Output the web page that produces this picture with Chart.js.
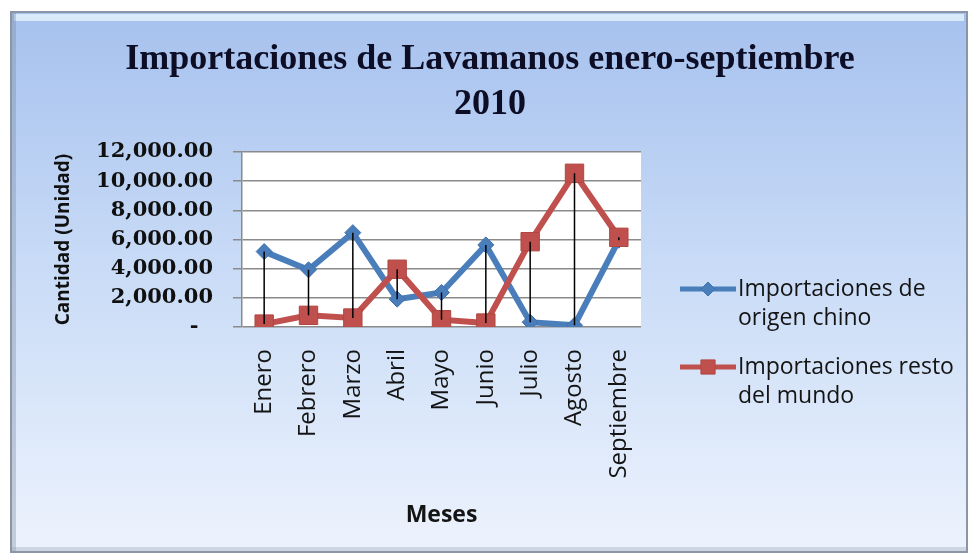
<!DOCTYPE html>
<html lang="es">
<head>
<meta charset="utf-8">
<title>Importaciones de Lavamanos enero-septiembre 2010</title>
<script src="https://cdn.jsdelivr.net/npm/chart.js@4/dist/chart.umd.min.js"></script>
<style>
  html, body { margin: 0; padding: 0; background: #ffffff; }
  #wrap { width: 971px; height: 556px; }
</style>
</head>
<body>
<div id="wrap"><canvas id="chart" width="971" height="556"></canvas></div>
<script>
// Datos de importaciones (unidades) por mes
const meses = ['Enero', 'Febrero', 'Marzo', 'Abril', 'Mayo', 'Junio', 'Julio', 'Agosto', 'Septiembre'];
const origenChino = [5170, 3920, 6470, 1910, 2370, 5630, 330, 120, 5950];
const restoMundo = [200, 800, 615, 3960, 500, 270, 5850, 10540, 6150];
const nombresSeries = [['Importaciones de', 'origen chino'], ['Importaciones resto', 'del mundo']];
const tituloLineas = ['Importaciones de Lavamanos enero-septiembre', '2010'];
const ejeY = { min: 0, max: 12000, paso: 2000 };

const AZUL = '#4a7ebb';
const ROJO = '#c0504d';

// Marco con degradado y fondo blanco del área de trazado
const fondoPlugin = {
  id: 'fondo',
  beforeDraw(chart) {
    const ctx = chart.ctx;
    const W = chart.width, H = chart.height;
    ctx.save();
    ctx.fillStyle = '#ffffff';
    ctx.fillRect(0, 0, W, H);

    const x0 = 10, y0 = 11, x1 = 968, y1 = 553;
    const g = ctx.createLinearGradient(0, y0, 0, y1);
    g.addColorStop(0, '#a6c1ee');
    g.addColorStop(0.45, '#c7daf6');
    g.addColorStop(1, '#edf3fd');
    ctx.fillStyle = g;
    ctx.fillRect(x0, y0, x1 - x0, y1 - y0);

    // bisel del marco
    ctx.fillStyle = 'rgba(225,240,252,0.85)';
    ctx.fillRect(x0 + 4, y0 + 3, x1 - x0 - 8, 7);
    ctx.fillStyle = 'rgba(120,135,155,0.35)';
    ctx.fillRect(x0 + 2, y0 + 2, 4, y1 - y0 - 4);
    ctx.fillStyle = 'rgba(150,160,175,0.35)';
    ctx.fillRect(x0 + 2, y1 - 6, x1 - x0 - 4, 4);
    ctx.strokeStyle = '#8a95a6';
    ctx.lineWidth = 2;
    ctx.strokeRect(x0 + 1, y0 + 1, x1 - x0 - 2, y1 - y0 - 2);

    const a = chart.chartArea;
    ctx.fillStyle = '#ffffff';
    ctx.fillRect(a.left, a.top, a.right - a.left, a.bottom - a.top);
    ctx.restore();
  }
};

// Líneas máximo-mínimo entre las dos series
const lineasPlugin = {
  id: 'lineasMaxMin',
  afterDatasetsDraw(chart) {
    const ctx = chart.ctx;
    const a = chart.getDatasetMeta(0).data;
    const b = chart.getDatasetMeta(1).data;
    ctx.save();
    ctx.strokeStyle = '#000000';
    ctx.lineWidth = 1.5;
    ctx.beginPath();
    for (let i = 0; i < a.length; i++) {
      ctx.moveTo(a[i].x, a[i].y);
      ctx.lineTo(b[i].x, b[i].y);
    }
    ctx.stroke();
    ctx.restore();
  }
};

// Título en dos líneas
const tituloPlugin = {
  id: 'tituloDosLineas',
  afterDraw(chart) {
    const ctx = chart.ctx;
    ctx.save();
    ctx.fillStyle = '#0d0e26';
    ctx.font = 'bold 36px "Liberation Serif", "Times New Roman", serif';
    ctx.textAlign = 'center';
    ctx.textBaseline = 'alphabetic';
    tituloLineas.forEach((t, i) => ctx.fillText(t, 490, 69 + i * 45));
    ctx.restore();
  }
};

// Leyenda a la derecha con texto en dos líneas
const leyendaPlugin = {
  id: 'leyendaDerecha',
  afterDraw(chart) {
    const ctx = chart.ctx;
    ctx.save();
    ctx.font = '23px "Open Sans", sans-serif';
    ctx.textBaseline = 'middle';
    ctx.textAlign = 'left';
    chart.data.datasets.forEach((ds, i) => {
      const y = 289 + i * 78;
      ctx.strokeStyle = ds.borderColor;
      ctx.lineWidth = 5;
      ctx.beginPath();
      ctx.moveTo(680, y);
      ctx.lineTo(736, y);
      ctx.stroke();
      ctx.fillStyle = ds.pointBackgroundColor;
      ctx.strokeStyle = ds.pointBorderColor;
      ctx.lineWidth = 1;
      Chart.helpers.drawPoint(ctx, {
        pointStyle: ds.pointStyle,
        radius: ds.pointStyle === 'rect' ? 10 : 7,
        borderWidth: 1,
        rotation: 0
      }, 708, y);
      ctx.fillStyle = '#141414';
      nombresSeries[i].forEach((t, k) => ctx.fillText(t, 738, y + k * 29));
    });
    ctx.restore();
  }
};

new Chart(document.getElementById('chart'), {
  type: 'line',
  data: {
    labels: meses,
    datasets: [
      {
        label: nombresSeries[0].join(' '),
        data: origenChino,
        borderColor: AZUL,
        backgroundColor: AZUL,
        pointBackgroundColor: '#4a7ebb',
        pointBorderColor: '#3f70ad',
        borderWidth: 6,
        pointStyle: 'rectRot',
        pointRadius: 8,
        pointBorderWidth: 1,
        tension: 0,
        order: 1
      },
      {
        label: nombresSeries[1].join(' '),
        data: restoMundo,
        borderColor: ROJO,
        backgroundColor: ROJO,
        pointBackgroundColor: '#c0504d',
        pointBorderColor: '#b04642',
        borderWidth: 6,
        pointStyle: 'rect',
        pointRadius: 13,
        pointBorderWidth: 1,
        tension: 0,
        order: 0
      }
    ]
  },
  options: {
    responsive: false,
    animation: false,
    devicePixelRatio: 1,
    layout: { padding: { top: 152, left: 10, right: 330, bottom: 0 } },
    plugins: {
      legend: { display: false },
      title: { display: false },
      tooltip: { enabled: false }
    },
    scales: {
      x: {
        offset: true,
        afterFit(scale) { scale.height = 229; },
        grid: { display: false, drawTicks: false, offset: true },
        border: { display: false },
        ticks: {
          color: '#141414',
          font: { family: '"Open Sans", sans-serif', size: 24 },
          minRotation: 90,
          maxRotation: 90,
          padding: 22,
          autoSkip: false
        },
        title: {
          display: true,
          text: 'Meses',
          color: '#141414',
          font: { family: '"Open Sans", sans-serif', size: 23, weight: 'bold' },
          padding: { top: 0, bottom: 27 }
        }
      },
      y: {
        min: ejeY.min,
        max: ejeY.max,
        afterFit(scale) { scale.width = 232; },
        grid: { color: '#8a8a8a', lineWidth: 1.5, tickLength: 9, drawTicks: true },
        border: { display: true, color: '#8a8a8a', width: 1.5 },
        ticks: {
          stepSize: ejeY.paso,
          color: '#101010',
          padding: 20,
          font: { family: '"DejaVu Serif", serif', size: 21, weight: 'bold' },
          callback(v) {
            return v === 0 ? '-  ' : v.toLocaleString('en-US', { minimumFractionDigits: 2, maximumFractionDigits: 2 });
          }
        },
        title: {
          display: true,
          text: 'Cantidad (Unidad)',
          color: '#101010',
          font: { family: '"Open Sans", sans-serif', size: 19, weight: 'bold' },
          padding: { top: 42, bottom: 0 }
        }
      }
    }
  },
  plugins: [fondoPlugin, lineasPlugin, tituloPlugin, leyendaPlugin]
});
</script>
</body>
</html>
